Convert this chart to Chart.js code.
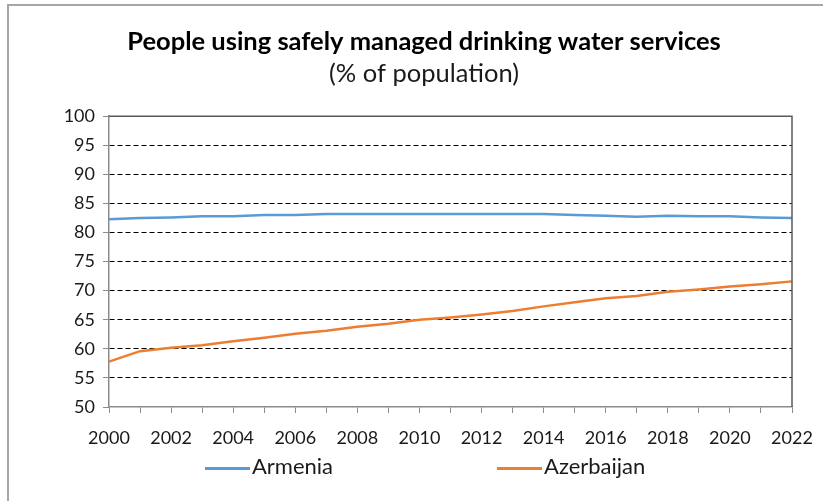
<!DOCTYPE html>
<html>
<head>
<meta charset="utf-8">
<script src="https://cdn.jsdelivr.net/npm/chart.js@4"></script>
<style>
  html, body { margin: 0; padding: 0; background: #ffffff; }
  #wrap { position: relative; width: 823px; height: 501px; overflow: hidden; }
  #frame { position: absolute; left: 7px; top: 4px; right: -4px; bottom: -4px;
           border-top: 2px solid #a6a6a6; border-left: 2px solid #a6a6a6; }
  #chart { position: absolute; left: 0; top: 0; }
  .leg { position: absolute; top: 452px; font: 22px Lato, sans-serif; color: #1a1a1a; white-space: nowrap; }
  .leg i { display: inline-block; width: 45px; height: 3px; vertical-align: middle; margin-right: 2px; }
</style>
</head>
<body>
<div id="wrap">
  <div id="frame"></div>
  <canvas id="chart" width="823" height="501"></canvas>
  <div id="legend"></div>
</div>
<script>
const years = ['2000','2001','2002','2003','2004','2005','2006','2007','2008','2009','2010',
               '2011','2012','2013','2014','2015','2016','2017','2018','2019','2020','2021','2022'];
const armenia = [82.3, 82.5, 82.6, 82.8, 82.8, 83.0, 83.0, 83.2, 83.2, 83.2, 83.2, 83.2,
                 83.2, 83.2, 83.2, 83.0, 82.9, 82.7, 82.9, 82.8, 82.8, 82.6, 82.5];
const azerbaijan = [57.8, 59.6, 60.2, 60.6, 61.3, 61.9, 62.6, 63.1, 63.8, 64.3, 65.0, 65.4,
                    65.9, 66.5, 67.3, 68.0, 68.7, 69.1, 69.8, 70.2, 70.7, 71.1, 71.6];
const yMin = 50, yMax = 100, yStep = 5;

const seriesNames = ['Armenia', 'Azerbaijan'];
const seriesColors = ['#5b9bd5', '#ed7d31'];

Chart.defaults.font.family = "Lato, 'Open Sans', sans-serif";
Chart.defaults.color = '#1a1a1a';

// solid top/right edge of the plot area
const plotFrame = {
  id: 'plotFrame',
  afterDatasetsDraw(chart) {
    const a = chart.chartArea, ctx = chart.ctx;
    ctx.save();
    ctx.strokeStyle = '#595959';
    ctx.lineWidth = 1.5;
    ctx.beginPath();
    ctx.moveTo(a.left, a.top);
    ctx.lineTo(a.right, a.top);
    ctx.lineTo(a.right, a.bottom);
    ctx.stroke();
    ctx.restore();
  }
};

const chart = new Chart(document.getElementById('chart'), {
  type: 'line',
  data: {
    labels: years,
    datasets: [
      { label: seriesNames[0], data: armenia, borderColor: seriesColors[0], backgroundColor: seriesColors[0] },
      { label: seriesNames[1], data: azerbaijan, borderColor: seriesColors[1], backgroundColor: seriesColors[1] }
    ]
  },
  options: {
    responsive: false,
    animation: false,
    layout: { padding: { left: 56, right: 31, top: 0, bottom: 50 } },
    elements: {
      line: { borderWidth: 2.5, tension: 0 },
      point: { radius: 0 }
    },
    plugins: {
      legend: { display: false },
      tooltip: { enabled: false },
      title: {
        display: true,
        text: 'People using safely managed drinking water services',
        font: { size: 25.5, weight: 'bold' },
        color: '#000000',
        padding: { top: 26, bottom: 0 }
      },
      subtitle: {
        display: true,
        text: '(% of population)',
        font: { size: 25.5 },
        color: '#1a1a1a',
        padding: { top: 2, bottom: 27 }
      }
    },
    scales: {
      x: {
        offset: false,
        afterFit(s) {
          s.height = 44;
          // end labels fit inside the layout padding
          s.paddingLeft = 0;
          s.paddingRight = 0;
        },
        grid: { drawOnChartArea: false, drawTicks: true, tickLength: 6, tickColor: '#8c8c8c' },
        border: { color: '#8c8c8c', width: 1.5 },
        ticks: {
          autoSkip: false, maxRotation: 0, padding: 14,
          font: { size: 18 },
          callback(v, i) { return i % 2 === 0 ? years[i] : ''; }
        }
      },
      y: {
        min: yMin, max: yMax,
        afterFit(s) { s.width = 53; },
        grid: {
          tickLength: 6,
          tickColor: '#8c8c8c',
          color: ctx => (ctx.tick && ctx.tick.value === yMin) ? 'rgba(0,0,0,0)' : '#000000',
          lineWidth: 1
        },
        border: { color: '#8c8c8c', width: 1.5, dash: [5, 3] },
        ticks: { stepSize: yStep, padding: 8, font: { size: 18 } }
      }
    }
  },
  plugins: [plotFrame]
});

// legend row under the axis
const legendPos = [205, 497];
const legend = document.getElementById('legend');
chart.data.datasets.forEach((ds, i) => {
  const el = document.createElement('div');
  el.className = 'leg';
  el.style.left = legendPos[i] + 'px';
  el.innerHTML = '<i style="background:' + ds.borderColor + '"></i>' + ds.label;
  legend.appendChild(el);
});
</script>
</body>
</html>
